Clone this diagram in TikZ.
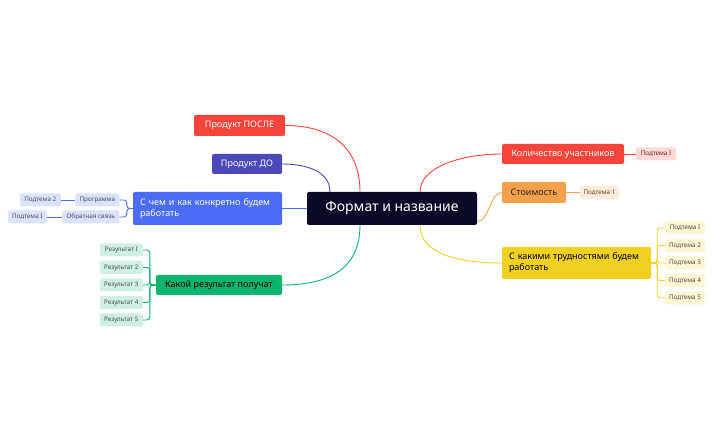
\documentclass[tikz,border=0pt]{standalone}
\usepackage{fontspec}
\setmainfont{Noto Sans}
\begin{document}
\begin{tikzpicture}[x=1pt,y=-1pt,
 br/.style={rounded corners=2pt,inner sep=0pt,text=white,font=\fontsize{9}{11}\selectfont,align=left},
 sub/.style={rounded corners=2pt,inner sep=0pt,minimum height=13pt,font=\fontsize{6.3}{7}\selectfont},
 ln/.style={line width=0.9pt}]
\fill[white] (0,0) rectangle (715,443);
\definecolor{cdark}{HTML}{0A0A28}\definecolor{cred}{HTML}{F5443A}\definecolor{cind}{HTML}{4B48B8}
\definecolor{cblue}{HTML}{4A6CF7}\definecolor{cgreen}{HTML}{0AB56E}\definecolor{corange}{HTML}{F5A04A}
\definecolor{cyel}{HTML}{F0D020}
\node[rounded corners=2pt,fill=cdark,text=white,minimum width=170pt,minimum height=33pt,font=\fontsize{14}{16}\selectfont] (c) at (392,208.5) {Формат и название};
\node[br,fill=cred,minimum width=91pt,minimum height=21pt] (p1) at (239.5,125.5) {Продукт ПОСЛЕ};
\node[br,fill=cind,minimum width=70pt,minimum height=20pt] (p2) at (247,164) {Продукт ДО};
\node[br,fill=cblue,minimum width=149pt,minimum height=33pt,text width=135pt] (p3) at (207.5,208.5) {С чем и как конкретно будем\\работать};
\node[br,fill=cgreen,text=black,minimum width=126pt,minimum height=20pt] (p4) at (219,285) {Какой результат получат};
\node[br,fill=cred,minimum width=122pt,minimum height=20pt] (q1) at (563,154) {Количество участников};
\node[br,fill=corange,text=black!85,minimum width=64pt,minimum height=21pt] (q2) at (534,192.5) {Стоимость};
\node[br,fill=cyel,text=black,minimum width=149pt,minimum height=32pt,text width=135pt] (q3) at (576.5,263) {С какими трудностями будем\\работать};
% connectors
\draw[ln,cred] ([xshift=-32pt]c.north) .. controls +(0,-45) and +(45,0) .. (p1.east);
\draw[ln,cind] ([xshift=-62pt]c.north) .. controls +(0,-20) and +(25,0) .. (p2.east);
\draw[ln,cblue] (c.west) -- (p3.east);
\draw[ln,cgreen] ([xshift=-32pt]c.south) .. controls +(0,45) and +(45,0) .. (p4.east);
\draw[ln,cred] ([xshift=28pt]c.north) .. controls +(0,-25) and +(-40,0) .. (q1.west);
\draw[ln,corange] ([yshift=-13pt]c.east) .. controls +(12,0) and +(-12,0) .. (q2.west);
\draw[ln,cyel] ([xshift=28pt]c.south) .. controls +(0,30) and +(-40,0) .. (q3.west);
% right subs
\node[sub,fill=cred!20,text=cred!50!black,minimum width=40pt] (r1) at (656,154) {Подтема I};
\draw[ln,cred] (q1.east) -- (r1.west);
\node[sub,fill=corange!20,text=corange!40!black,minimum width=39pt] (r2) at (599.5,192.5) {Подтема 1};
\draw[ln,corange] (q2.east) -- (r2.west);
\foreach \i/\y/\t in {1/228/Подтема I,2/245.5/Подтема 2,3/263/Подтема 3,4/280.5/Подтема 4,5/298/Подтема 5}{
 \node[sub,fill=cyel!20,text=black!70,minimum width=40pt] (y\i) at (685,\y) {\t};
 \draw[ln,cyel,rounded corners=3pt] (q3.east) -- ++(6,0) |- (y\i.west);}
% green subs
\foreach \i/\y in {1/250,2/267.5,3/285,4/302.5,5/320}{
 \node[sub,fill=cgreen!20,text=black!70,minimum width=43pt,anchor=east] (g\i) at (143,\y) {Результат \ifnum\i=1 I\else\i\fi};
 \draw[ln,cgreen,rounded corners=3pt] (p4.west) -- ++(-6,0) |- (g\i.east);}
% blue subs
\node[sub,fill=cblue!20,text=black!70,minimum width=44pt,anchor=east] (b1) at (119.5,200) {Программа};
\node[sub,fill=cblue!20,text=black!70,minimum width=57pt,anchor=east] (b2) at (119.5,217) {Обратная связь};
\draw[ln,cblue,rounded corners=3pt] (p3.west) -- ++(-6,0) |- (b1.east);
\draw[ln,cblue,rounded corners=3pt] (p3.west) -- ++(-6,0) |- (b2.east);
\node[sub,fill=cblue!20,text=black!70,minimum width=41pt,anchor=east] (b3) at (61,200) {Подтема 2};
\node[sub,fill=cblue!20,text=black!70,minimum width=39pt,anchor=east] (b4) at (47,217) {Подтема I};
\draw[ln,cblue] (b1.west) -- (b3.east);
\draw[ln,cblue] (b2.west) -- (b4.east);
\end{tikzpicture}
\end{document}
